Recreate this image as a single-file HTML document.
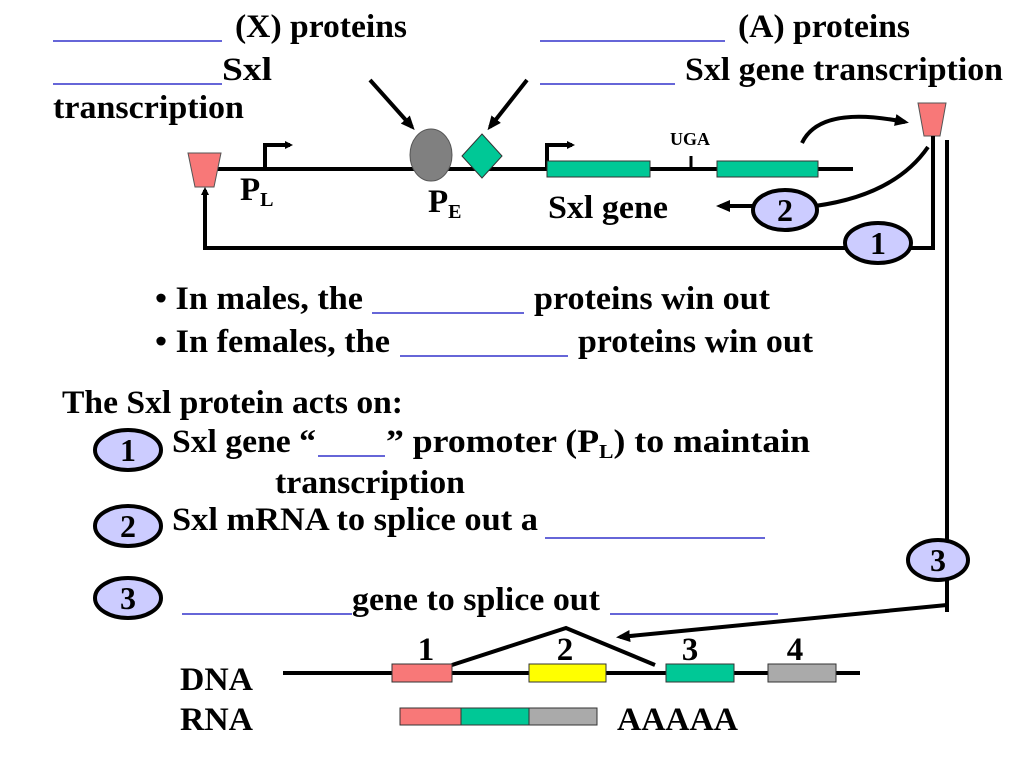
<!DOCTYPE html>
<html><head><style>body{margin:0;background:#fff}svg{display:block}text{font-family:"Liberation Serif",serif;font-weight:bold;fill:#000}</style></head><body>
<svg width="1024" height="768" viewBox="0 0 1024 768" xmlns="http://www.w3.org/2000/svg">
<defs><marker id="a" markerWidth="8" markerHeight="8" refX="5" refY="4" orient="auto" markerUnits="userSpaceOnUse"><path d="M0,0 L8,4 L0,8 z" fill="#000"/></marker>
<marker id="b" markerWidth="14" markerHeight="12" refX="10" refY="6" orient="auto" markerUnits="userSpaceOnUse"><path d="M0,0 L14,6 L0,12 z" fill="#000"/></marker></defs>
<g font-size="33">
<text x="235" y="37" textLength="172" lengthAdjust="spacingAndGlyphs">(X) proteins</text>
<line x1="53" y1="41" x2="222" y2="41" stroke="#3333cc" stroke-width="1.5"/>
<line x1="53" y1="84" x2="222" y2="84" stroke="#3333cc" stroke-width="1.5"/>
<text x="222" y="80" textLength="50" lengthAdjust="spacingAndGlyphs">Sxl</text>
<text x="53" y="118" textLength="191" lengthAdjust="spacingAndGlyphs">transcription</text>
<line x1="540" y1="41" x2="725" y2="41" stroke="#3333cc" stroke-width="1.5"/>
<text x="738" y="37" textLength="172" lengthAdjust="spacingAndGlyphs">(A) proteins</text>
<line x1="540" y1="84" x2="675" y2="84" stroke="#3333cc" stroke-width="1.5"/>
<text x="685" y="80" textLength="318" lengthAdjust="spacingAndGlyphs">Sxl gene transcription</text>
</g>
<line x1="370" y1="80" x2="412" y2="127" stroke="#000" stroke-width="4" marker-end="url(#b)"/>
<line x1="527" y1="80" x2="490" y2="127" stroke="#000" stroke-width="4" marker-end="url(#b)"/>
<line x1="205" y1="169" x2="853" y2="169" stroke="#000" stroke-width="4"/>
<polygon points="188,153 221,153 214,187 195,187" fill="#f87878" stroke="#555" stroke-width="1"/>
<polyline points="265,169 265,145 290,145" fill="none" stroke="#000" stroke-width="4" marker-end="url(#a)"/>
<ellipse cx="431" cy="155" rx="21" ry="26" fill="#808080" stroke="#555"/>
<polygon points="482,134 502,156 482,178 462,156" fill="#00c896" stroke="#333"/>
<polyline points="547,169 547,145 572,145" fill="none" stroke="#000" stroke-width="4" marker-end="url(#a)"/>
<rect x="547" y="161" width="103" height="16" fill="#00c896" stroke="#333"/>
<line x1="691" y1="156" x2="691" y2="169" stroke="#000" stroke-width="3"/>
<text x="670" y="145" font-size="18">UGA</text>
<rect x="717" y="161" width="101" height="16" fill="#00c896" stroke="#333"/>
<text x="240" y="200" font-size="33">P<tspan font-size="20" dy="6">L</tspan></text>
<text x="428" y="212" font-size="33">P<tspan font-size="20" dy="6">E</tspan></text>
<text x="548" y="218" font-size="33" textLength="120" lengthAdjust="spacingAndGlyphs">Sxl gene</text>
<polygon points="918,103 946,103 940,136 924,136" fill="#f87878" stroke="#555"/>
<path d="M802,143 Q820,105 905,122" fill="none" stroke="#000" stroke-width="4" marker-end="url(#b)"/>
<path d="M928,147 Q895,195 815,206" fill="none" stroke="#000" stroke-width="4"/>
<line x1="754" y1="206" x2="720" y2="206" stroke="#000" stroke-width="4" marker-end="url(#b)"/>
<polyline points="933,136 933,248 205,248 205,200" fill="none" stroke="#000" stroke-width="4"/>
<line x1="205" y1="210" x2="205" y2="190" stroke="#000" stroke-width="4" marker-end="url(#a)"/>
<ellipse cx="785" cy="210" rx="32" ry="20" fill="#ccccff" stroke="#000" stroke-width="4"/>
<text x="785" y="221" font-size="32" text-anchor="middle">2</text>
<ellipse cx="878" cy="243" rx="33" ry="20" fill="#ccccff" stroke="#000" stroke-width="4"/>
<text x="878" y="254" font-size="32" text-anchor="middle">1</text>
<line x1="947" y1="140" x2="947" y2="612" stroke="#000" stroke-width="4"/>
<ellipse cx="938" cy="560" rx="30" ry="20" fill="#ccccff" stroke="#000" stroke-width="4"/>
<text x="938" y="571" font-size="32" text-anchor="middle">3</text>
<g font-size="33">
<text x="155" y="309" textLength="208" lengthAdjust="spacingAndGlyphs">• In males, the</text>
<line x1="372" y1="313" x2="524" y2="313" stroke="#3333cc" stroke-width="1.5"/>
<text x="534" y="309" textLength="236" lengthAdjust="spacingAndGlyphs">proteins win out</text>
<text x="155" y="352" textLength="235" lengthAdjust="spacingAndGlyphs">• In females, the</text>
<line x1="400" y1="356" x2="568" y2="356" stroke="#3333cc" stroke-width="1.5"/>
<text x="578" y="352" textLength="235" lengthAdjust="spacingAndGlyphs">proteins win out</text>
<text x="62" y="413" textLength="341" lengthAdjust="spacingAndGlyphs">The Sxl protein acts on:</text>
<text x="172" y="452" textLength="144" lengthAdjust="spacingAndGlyphs">Sxl gene “</text>
<line x1="318" y1="456" x2="385" y2="456" stroke="#3333cc" stroke-width="1.5"/>
<text x="386" y="452" textLength="424" lengthAdjust="spacingAndGlyphs">” promoter   (P<tspan font-size="20" dy="6">L</tspan><tspan dy="-6">) to maintain</tspan></text>
<text x="275" y="493" textLength="190" lengthAdjust="spacingAndGlyphs">transcription</text>
<text x="172" y="530" textLength="366" lengthAdjust="spacingAndGlyphs">Sxl mRNA to splice out a</text>
<line x1="545" y1="538" x2="765" y2="538" stroke="#3333cc" stroke-width="1.5"/>
<line x1="182" y1="614" x2="352" y2="614" stroke="#3333cc" stroke-width="1.5"/>
<text x="352" y="610" textLength="248" lengthAdjust="spacingAndGlyphs">gene to splice out</text>
<line x1="610" y1="614" x2="778" y2="614" stroke="#3333cc" stroke-width="1.5"/>
</g>
<ellipse cx="128" cy="450" rx="33" ry="20" fill="#ccccff" stroke="#000" stroke-width="4"/>
<text x="128" y="461" font-size="32" text-anchor="middle">1</text>
<ellipse cx="128" cy="526" rx="33" ry="20" fill="#ccccff" stroke="#000" stroke-width="4"/>
<text x="128" y="537" font-size="32" text-anchor="middle">2</text>
<ellipse cx="128" cy="598" rx="33" ry="20" fill="#ccccff" stroke="#000" stroke-width="4"/>
<text x="128" y="609" font-size="32" text-anchor="middle">3</text>
<line x1="947" y1="605" x2="620" y2="637" stroke="#000" stroke-width="4" marker-end="url(#b)"/>
<line x1="283" y1="673" x2="860" y2="673" stroke="#000" stroke-width="4"/>
<polyline points="452,665 566,628 655,665" fill="none" stroke="#000" stroke-width="4"/>
<rect x="392" y="664" width="60" height="18" fill="#f87878" stroke="#333"/>
<rect x="529" y="664" width="77" height="18" fill="#ffff00" stroke="#333"/>
<rect x="666" y="664" width="68" height="18" fill="#00c896" stroke="#333"/>
<rect x="768" y="664" width="68" height="18" fill="#aaaaaa" stroke="#333"/>
<g font-size="33">
<text x="426" y="660" text-anchor="middle">1</text>
<text x="565" y="660" text-anchor="middle">2</text>
<text x="690" y="660" text-anchor="middle">3</text>
<text x="795" y="660" text-anchor="middle">4</text>
<text x="180" y="690" textLength="73" lengthAdjust="spacingAndGlyphs">DNA</text>
<text x="180" y="730" textLength="73" lengthAdjust="spacingAndGlyphs">RNA</text>
<text x="617" y="730" textLength="121" lengthAdjust="spacingAndGlyphs">AAAAA</text>
</g>
<rect x="400" y="708" width="61" height="17" fill="#f87878" stroke="#333"/>
<rect x="461" y="708" width="68" height="17" fill="#00c896" stroke="#333"/>
<rect x="529" y="708" width="68" height="17" fill="#aaaaaa" stroke="#333"/>
</svg>
</body></html>
